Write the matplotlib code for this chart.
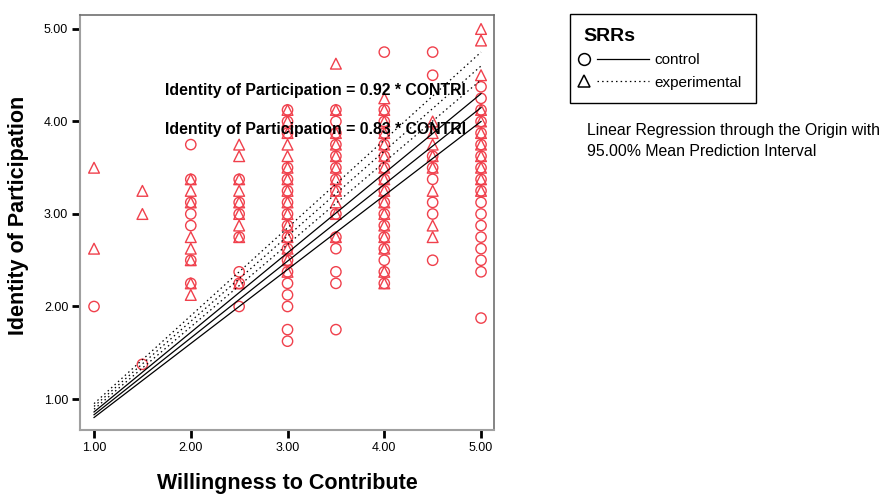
import matplotlib
matplotlib.use('Agg')
import matplotlib.pyplot as plt
import numpy as np
from matplotlib.lines import Line2D
from matplotlib.legend_handler import HandlerBase

plt.rcParams['font.family'] = ['Liberation Sans', 'DejaVu Sans']

# x levels of Willingness to Contribute
x_levels = [1.0, 1.5, 2.0, 2.5, 3.0, 3.5, 4.0, 4.5, 5.0]

# Identity of Participation values, control group, one list per x level
control_y = [
    [2.0],
    [1.375],
    [3.75, 3.375, 3.125, 3.0, 2.875, 2.5, 2.25],
    [3.375, 3.125, 3.0, 2.75, 2.375, 2.25, 2.0],
    [4.125, 4.0, 3.875, 3.5, 3.375, 3.25, 3.125, 3.0, 2.875, 2.75, 2.625, 2.5,
     2.375, 2.25, 2.125, 2.0, 1.75, 1.625],
    [4.125, 4.0, 3.875, 3.75, 3.625, 3.5, 3.375, 3.25, 3.0, 2.75, 2.625, 2.375,
     2.25, 1.75],
    [4.75, 4.125, 4.0, 3.875, 3.75, 3.625, 3.5, 3.375, 3.25, 3.125, 3.0, 2.875,
     2.75, 2.625, 2.5, 2.375, 2.25],
    [4.75, 4.5, 3.625, 3.5, 3.375, 3.125, 3.0, 2.5],
    [4.375, 4.25, 4.125, 4.0, 3.875, 3.75, 3.625, 3.5, 3.375, 3.25, 3.125, 3.0,
     2.875, 2.75, 2.625, 2.5, 2.375, 1.875],
]

# experimental group
experimental_y = [
    [3.5, 2.625],
    [3.25, 3.0],
    [3.375, 3.25, 3.125, 2.75, 2.625, 2.5, 2.25, 2.125],
    [3.75, 3.625, 3.375, 3.25, 3.125, 3.0, 2.875, 2.75, 2.25],
    [4.125, 4.0, 3.875, 3.75, 3.625, 3.5, 3.375, 3.25, 3.125, 3.0, 2.875, 2.75,
     2.625, 2.5, 2.375],
    [4.625, 4.125, 3.875, 3.75, 3.625, 3.5, 3.375, 3.25, 3.125, 3.0, 2.75],
    [4.25, 4.125, 4.0, 3.875, 3.75, 3.625, 3.5, 3.375, 3.25, 3.125, 3.0, 2.875,
     2.75, 2.625, 2.375, 2.25],
    [4.0, 3.875, 3.75, 3.625, 3.5, 3.25, 2.875, 2.75],
    [5.0, 4.875, 4.5, 4.125, 4.0, 3.875, 3.75, 3.625, 3.5, 3.375, 3.25],
]

# regression through origin: slope and half width of mean interval per unit x
slope_control = 0.83
slope_experimental = 0.92
band_control = 0.03
band_experimental = 0.03

eq_labels = ['Identity of Participation = 0.92 * CONTRI',
             'Identity of Participation = 0.83 * CONTRI']
ticks = [1.0, 2.0, 3.0, 4.0, 5.0]

red = '#f0404c'
dots = (0, (1.2, 2.5))


class MarkerThenLine(HandlerBase):
    # marker at the left end, line to its right (SPSS style legend key)
    def __init__(self, marker, ls):
        super().__init__()
        self.marker = marker
        self.ls = ls

    def create_artists(self, legend, orig_handle, xdescent, ydescent,
                       width, height, fontsize, trans):
        yc = height / 2 - ydescent
        m = Line2D([-xdescent + 0.5], [yc], marker=self.marker, ls='none',
                   mfc='none', mec='black', ms=8.5, mew=1.1, transform=trans)
        ln = Line2D([-xdescent + 9.5, -xdescent + width], [yc, yc],
                    color='black', lw=0.9, ls=self.ls, transform=trans)
        return [m, ln]


fig = plt.figure(figsize=(8.8, 4.95), dpi=100)
ax = fig.add_axes([80 / 880, 1 - 430 / 495, 414 / 880, 415 / 495])

cx = [x for x, ys in zip(x_levels, control_y) for _ in ys]
cy = [y for ys in control_y for y in ys]
ex = [x for x, ys in zip(x_levels, experimental_y) for _ in ys]
ey = [y for ys in experimental_y for y in ys]

ax.scatter(cx, cy, s=55, marker='o', facecolors='none', edgecolors=red,
           linewidths=1.0, zorder=2)
ax.scatter(ex, ey, s=60, marker='^', facecolors='none', edgecolors=red,
           linewidths=1.0, zorder=2)

xl = np.array([1.0, 5.0])
for k in (-1, 0, 1):
    ax.plot(xl, (slope_control + k * band_control) * xl, color='black',
            lw=0.9, zorder=3)
    ax.plot(xl, (slope_experimental + k * band_experimental) * xl,
            color='black', lw=0.9, ls=dots, zorder=3)

ax.text(1.734, 4.34, eq_labels[0], fontsize=11.4, fontweight='bold',
        va='center', ha='left', zorder=4)
ax.text(1.734, 3.91, eq_labels[1], fontsize=11.4, fontweight='bold',
        va='center', ha='left', zorder=4)

ax.set_xlim(0.855, 5.134)
ax.set_ylim(0.665, 5.151)
ax.set_xticks(ticks)
ax.set_yticks(ticks)
ax.set_xticklabels(['%.2f' % t for t in ticks], fontsize=9)
ax.set_yticklabels(['%.2f' % t for t in ticks], fontsize=9)
ax.tick_params(direction='out', length=5.5, width=2, color='black', pad=3)

for side in ('left', 'bottom'):
    ax.spines[side].set_color('#a0a0a0')
    ax.spines[side].set_linewidth(1.5)
for side in ('top', 'right'):
    ax.spines[side].set_color('#707070')
    ax.spines[side].set_linewidth(1.2)

ax.set_xlabel('Willingness to Contribute', fontsize=15.5, fontweight='bold')
ax.set_ylabel('Identity of Participation', fontsize=15.5, fontweight='bold')
ax.xaxis.set_label_coords(0.502, -0.104)
ax.yaxis.set_label_coords(-0.122, 0.518)

# legend
h_c = Line2D([], [], color='black')
h_e = Line2D([], [], color='black', ls=dots)
leg = fig.legend([h_c, h_e], ['control', 'experimental'],
                 handler_map={h_c: MarkerThenLine('o', '-'),
                              h_e: MarkerThenLine('^', dots)},
                 loc='upper left', bbox_to_anchor=(570 / 880, 1 - 14 / 495),
                 borderaxespad=0, fontsize=11, title='SRRs',
                 title_fontproperties={'weight': 'bold', 'size': 14},
                 alignment='left', handlelength=4.3, handletextpad=0.35,
                 labelspacing=0.55, fancybox=False, edgecolor='black',
                 framealpha=1, borderpad=0.9)
leg.get_frame().set_linewidth(1.0)

fig.text(587 / 880, 1 - 131 / 495,
         'Linear Regression through the Origin with',
         fontsize=11.4, va='center', ha='left')
fig.text(587 / 880, 1 - 151 / 495, '95.00% Mean Prediction Interval',
         fontsize=11.4, va='center', ha='left')

fig.savefig('out.png', dpi=100)
